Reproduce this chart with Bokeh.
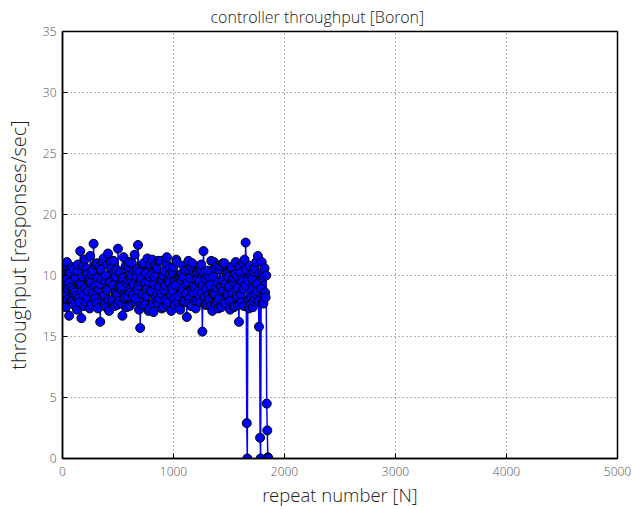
from bokeh.plotting import figure
from bokeh.models import FixedTicker, ColumnDataSource
from bokeh.embed import file_html
from bokeh.resources import INLINE

title_text = "controller throughput [Boron]"
x_label = "repeat number [N]"
y_label = "throughput [responses/sec]"

x_ticks = [0, 1000, 2000, 3000, 4000, 5000]
y_ticks = [0, 5, 10, 15, 20, 25, 30, 35]
y_tick_labels = ["0", "5", "15", "10", "20", "25", "30", "35"]

repeat_step = 5
throughput = [
    15.8, 14.1, 13.2, 15.0, 14.6, 13.5, 12.4, 14.8, 16.1, 13.0,
    13.9, 15.3, 11.7, 14.4, 15.2, 12.9, 14.0, 15.7, 12.9, 13.8,
    15.5, 12.6, 13.6, 14.9, 14.8, 13.3, 12.2, 15.4, 15.9, 13.1,
    14.3, 12.8, 17.0, 14.2, 11.5, 13.7, 14.9, 15.8, 13.4, 12.5,
    16.3, 14.0, 12.8, 15.6, 15.1, 13.2, 13.7, 14.7, 14.5, 12.3,
    16.6, 14.4, 12.6, 15.1, 15.4, 13.6, 17.6, 14.1, 13.1, 15.9,
    14.2, 12.7, 16.0, 14.8, 12.3, 13.9, 15.7, 14.3, 11.2, 15.5,
    14.7, 12.9, 13.3, 16.2, 16.4, 13.4, 12.7, 14.6, 15.0, 12.4,
    13.8, 15.9, 16.8, 13.0, 12.1, 14.5, 14.4, 16.1, 15.6, 12.8,
    13.0, 14.2, 16.2, 15.3, 12.5, 13.6, 14.9, 15.5, 13.5, 12.6,
    17.2, 14.0, 12.9, 15.2, 15.3, 13.9, 14.1, 12.7, 11.7, 14.8,
    16.5, 13.1, 13.2, 15.6, 15.8, 14.4, 12.4, 13.3, 14.6, 15.7,
    16.1, 12.5, 13.6, 14.7, 15.0, 16.0, 12.8, 13.4, 14.3, 15.4,
    16.7, 12.9, 13.1, 14.9, 15.5, 13.8, 17.5, 14.2, 12.2, 15.3,
    10.7, 14.5, 14.8, 12.6, 13.4, 15.9, 16.0, 13.0, 12.6, 14.4,
    15.2, 13.3, 13.9, 16.4, 14.5, 12.1, 12.3, 14.9, 15.9, 13.7,
    13.7, 15.1, 16.3, 12.7, 12.0, 14.3, 14.9, 15.8, 13.2, 12.9,
    15.6, 13.5, 12.7, 16.2, 14.1, 13.1, 16.2, 14.6, 13.5, 12.3,
    14.7, 15.0, 12.4, 13.8, 15.4, 14.2, 13.0, 16.0, 16.5, 12.6,
    12.8, 14.7, 14.4, 15.6, 15.1, 13.4, 12.1, 14.0, 13.8, 15.2,
    15.7, 13.1, 12.6, 14.5, 14.2, 16.3, 16.1, 12.9, 13.3, 14.8,
    15.0, 12.4, 12.2, 15.1, 14.6, 13.6, 13.9, 14.9, 15.8, 12.8,
    12.9, 15.4, 14.3, 13.5, 11.6, 14.4, 15.5, 16.2, 13.1, 12.7,
    14.8, 15.7, 12.5, 13.9, 16.0, 14.1, 13.6, 15.3, 14.0, 12.9,
    12.3, 14.6, 15.3, 12.9, 13.7, 15.4, 14.5, 13.2, 12.8, 15.5,
    15.9, 13.6, 10.4, 14.2, 17.0, 15.2, 13.2, 12.6, 14.7, 13.9,
    12.6, 15.0, 15.4, 13.4, 13.0, 14.8, 14.2, 12.5, 16.2, 15.3,
    12.1, 13.5, 14.9, 16.1, 13.5, 12.7, 15.6, 14.0, 12.9, 15.8,
    14.4, 12.3, 13.1, 15.5, 15.8, 14.1, 12.4, 13.7, 14.6, 16.0,
    13.8, 12.8, 16.0, 14.3, 12.7, 15.2, 15.1, 13.5, 13.4, 14.9,
    14.1, 12.9, 12.2, 15.6, 15.7, 13.0, 13.6, 14.5, 14.8, 12.4,
    12.5, 15.1, 16.1, 13.8, 13.3, 14.9, 14.0, 12.6, 11.2, 15.7,
    15.2, 13.4, 12.8, 14.7, 14.5, 16.0, 13.9, 12.5, 16.3, 14.2,
    17.7, 15.5, 2.9, 0.0, 14.6, 13.0, 12.3, 15.8, 15.0, 12.7,
    13.2, 14.9, 14.7, 12.4, 12.9, 15.3, 15.6, 13.1, 13.5, 16.1,
    14.3, 13.7, 16.6, 12.9, 10.8, 15.2, 1.7, 0.0, 13.9, 16.1,
    15.1, 12.8, 12.7, 14.9, 15.6, 13.6, 13.2, 15.0, 4.5, 2.3,
    0.1, 0.0,
]
repeats = [i * repeat_step for i in range(len(throughput))]

src = ColumnDataSource(data=dict(x=repeats, y=throughput))

FONT = "Open Sans Light, Lato, Open Sans, sans-serif"

p = figure(width=632, height=509, output_backend="svg", toolbar_location=None,
           x_range=(0, 5000), y_range=(0, 35),
           min_border_left=62, min_border_right=15, min_border_top=30,
           min_border_bottom=50)
p.background_fill_color = "white"
p.border_fill_color = "white"
p.outline_line_color = "black"
p.outline_line_width = 1.5
p.outline_line_alpha = 1.0

p.title.text = title_text
p.title.align = "left"
p.title.offset = 148
p.title.text_font = FONT
p.title.text_font_style = "normal"
p.title.text_font_size = "16px"
p.title.text_color = "#222222"
p.title.standoff = 7

p.line("x", "y", source=src, line_color="#0000ff", line_width=1.5)
p.scatter("x", "y", source=src, size=9, fill_color="#0000ff",
          line_color="black", line_width=1)

p.xaxis.ticker = FixedTicker(ticks=x_ticks)
p.yaxis.ticker = FixedTicker(ticks=y_ticks)
p.yaxis.major_label_overrides = {t: l for t, l in zip(y_ticks, y_tick_labels)}

for ax in (p.xaxis[0], p.yaxis[0]):
    ax.axis_line_color = "black"
    ax.axis_line_width = 1.5
    ax.major_tick_in = 5
    ax.major_tick_out = 0
    ax.major_tick_line_color = "black"
    ax.minor_tick_line_color = None
    ax.major_label_text_font = FONT
    ax.major_label_text_font_size = "12px"
    ax.major_label_text_color = "#555555"
    ax.axis_label_text_font = FONT
    ax.axis_label_text_font_style = "normal"
    ax.axis_label_text_color = "#222222"

p.xaxis.axis_label_text_font_size = "18.5px"
p.yaxis.axis_label_text_font_size = "20px"
p.xaxis.axis_label = x_label
p.yaxis.axis_label = y_label
p.xaxis.major_label_standoff = 8
p.yaxis.major_label_standoff = 6
p.xaxis.axis_label_standoff = 3
p.yaxis.axis_label_standoff = 8

p.grid.grid_line_color = "#666666"
p.grid.grid_line_dash = "1 3"
p.grid.grid_line_width = 1

open("out.html", "w").write(file_html(p, INLINE))
